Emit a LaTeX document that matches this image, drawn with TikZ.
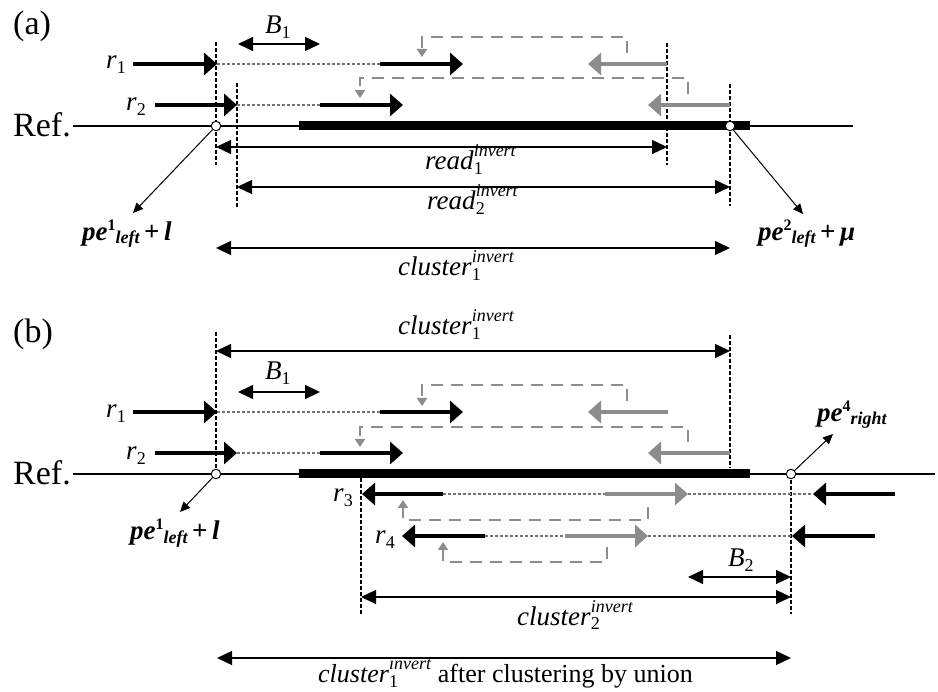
\documentclass[tikz,border=0pt]{standalone}
\usepackage{fontspec}
\setmainfont{Liberation Serif}
\usetikzlibrary{arrows.meta}

\definecolor{readgray}{gray}{0.55}
\definecolor{gapgray}{gray}{0.45}

% script-size text used for indices
\newcommand\scrsize{\fontsize{18}{18}\selectfont}
% superscript #1 stacked over subscript #2
\newcommand\stackss[2]{%
  \setbox0=\hbox{\scrsize #1}\setbox2=\hbox{\scrsize #2}%
  \ifdim\wd0>\wd2 \dimen0=\wd0 \else \dimen0=\wd2 \fi
  \hbox to \dimen0{\rlap{\raise13pt\box0}\lower5pt\box2\hss}}
% plain subscript
\newcommand\subsc[1]{\lower4.5pt\hbox{\scrsize #1}}
% bold breakpoint label: pe^{#1}_{#2} followed by #3
\newcommand\pelabel[3]{\textbf{\textit{pe}}\raise10pt\hbox{\fontsize{16}{16}\selectfont\bfseries #1}%
  \lower3pt\hbox{\fontsize{18}{18}\selectfont\bfseries\itshape #2}#3}

\begin{document}
\begin{tikzpicture}[x=1pt,y=-1pt,
  lbl/.style={inner sep=0pt, anchor=base west, font=\fontsize{27}{31}\selectfont},
  biglbl/.style={inner sep=0pt, anchor=base west, font=\fontsize{34}{40}\selectfont},
  readblk/.style={line width=4.5pt, -{Triangle[length=13pt,width=22pt]}},
  readgry/.style={readblk, color=readgray},
  gapdot/.style={line width=1.8pt, color=gapgray, dash pattern=on 3pt off 2pt},
  bounddot/.style={line width=2.4pt, dash pattern=on 4pt off 2pt},
  spanarr/.style={line width=1.3pt, {Triangle[length=15pt,width=14pt]}-{Triangle[length=15pt,width=14pt]}},
  linkdash/.style={line width=2.6pt, color=readgray, dash pattern=on 12pt off 8pt, -{Triangle[length=8pt,width=10pt]}},
  pearrow/.style={line width=1pt, -{Triangle[length=10pt,width=9pt]}},
  refln/.style={line width=1.3pt},
  bpoint/.style={circle, draw, fill=white, line width=0.9pt, minimum size=9.5pt, inner sep=0pt},
]
\useasboundingbox (0,0) rectangle (938,692);

%% ---------------- (a) ----------------
\node[biglbl] (taga) at (13,35) {(a)};
\node[biglbl] (refa) at (13,137) {Ref.};

\draw[refln] (73,126) -- (853,126);
\fill (299,121.5) rectangle (750,130.5);

% boundaries of the reads
\draw[bounddot] (216,42) -- (216,165);
\draw[bounddot] (237,83) -- (237,207);
\draw[bounddot] (667,43) -- (667,165);
\draw[bounddot] (730,84) -- (730,206);

% read pair r1
\draw[readblk] (133,64) -- (217,64);
\draw[gapdot] (217,64) -- (380,64);
\draw[readblk] (380,64) -- (463,64);
\draw[readgry] (667,64) -- (588,64);
\draw[linkdash] (627,53) -- (627,37) -- (422,37) -- (422,57);

% read pair r2
\draw[readblk] (155,105) -- (237,105);
\draw[gapdot] (237,105) -- (320,105);
\draw[readblk] (320,105) -- (403,105);
\draw[readgry] (730,105) -- (648,105);
\draw[linkdash] (688,94) -- (688,78) -- (360,78) -- (360,98);

\node[lbl] (r1a) at (106,69) {\textit{r}\subsc{1}};
\node[lbl] (r2a) at (126,111) {\textit{r}\subsc{2}};

% B1 window
\draw[spanarr] (238,44) -- (320,44);
\node[lbl] (b1a) at (265,34) {\textit{B}\subsc{1}};

% spans
\draw[spanarr] (216,147) -- (667,147);
\node[lbl] (rd1) at (425,170) {\textit{read}\stackss{\textit{invert}}{1}};
\draw[spanarr] (237,187) -- (730,187);
\node[lbl] (rd2) at (427,210) {\textit{read}\stackss{\textit{invert}}{2}};
\draw[spanarr] (216,248) -- (730,248);
\node[lbl] (cla) at (398,276) {\textit{cluster}\stackss{\textit{invert}}{1}};

% breakpoints
\node[bpoint] (pa1) at (216,126) {};
\node[bpoint] (pa2) at (730,126) {};
\coordinate (pa1e) at (133,213);
\coordinate (pa2e) at (803,214);
\draw[pearrow] (pa1) -- (pa1e);
\draw[pearrow] (pa2) -- (pa2e);
\node[lbl] (pea1) at (82,241) {\pelabel{1}{left}{\,\textbf{+}\,\textbf{\textit{l}}}};
\node[lbl] (pea2) at (758,241) {\pelabel{2}{left}{\,\textbf{+}\,\textbf{\textit{μ}}}};

%% ---------------- (b) ----------------
\node[biglbl] (tagb) at (13,343) {(b)};
\node[biglbl] (refb) at (13,485) {Ref.};

\draw[refln] (73,474) -- (935,474);
\fill (299,469.5) rectangle (750,478.5);

\draw[bounddot] (216,332) -- (216,474);
\draw[bounddot] (730,335) -- (730,468);
\draw[bounddot] (361,478) -- (361,614);
\draw[bounddot] (791,474) -- (791,614);

% cluster 1 span
\draw[spanarr] (216,351) -- (730,351);
\node[lbl] (clb) at (398,335) {\textit{cluster}\stackss{\textit{invert}}{1}};

% B1 window
\draw[spanarr] (238,392) -- (320,392);
\node[lbl] (b1b) at (265,380) {\textit{B}\subsc{1}};

% read pair r1
\draw[readblk] (133,412) -- (217,412);
\draw[gapdot] (217,412) -- (380,412);
\draw[readblk] (380,412) -- (463,412);
\draw[readgry] (668,412) -- (588,412);
\draw[linkdash] (627,401) -- (627,385) -- (422,385) -- (422,406);

% read pair r2
\draw[readblk] (155,453) -- (237,453);
\draw[gapdot] (237,453) -- (320,453);
\draw[readblk] (320,453) -- (403,453);
\draw[readgry] (730,453) -- (648,453);
\draw[linkdash] (688,442) -- (688,427) -- (360,427) -- (360,447);

\node[lbl] (r1b) at (106,418) {\textit{r}\subsc{1}};
\node[lbl] (r2b) at (126,460) {\textit{r}\subsc{2}};

% read pair r3
\draw[readblk] (443,494) -- (362,494);
\draw[gapdot] (443,494) -- (605,494);
\draw[readgry] (605,494) -- (688,494);
\draw[gapdot] (688,494) -- (813,494);
\draw[readblk] (895,494) -- (813,494);
\draw[linkdash] (648,507) -- (648,520) -- (403,520) -- (403,500);

% read pair r4
\draw[readblk] (485,536) -- (402,536);
\draw[gapdot] (485,536) -- (565,536);
\draw[readgry] (565,536) -- (648,536);
\draw[gapdot] (648,536) -- (792,536);
\draw[readblk] (875,536) -- (792,536);
\draw[linkdash] (607,547) -- (607,562) -- (443,562) -- (443,542);

\node[lbl] (r3b) at (333,502) {\textit{r}\subsc{3}};
\node[lbl] (r4b) at (375,544) {\textit{r}\subsc{4}};

% B2 window
\draw[spanarr] (688,577) -- (791,577);
\node[lbl] (b2b) at (728,567) {\textit{B}\subsc{2}};

% cluster 2 and merged cluster
\draw[spanarr] (361,597) -- (791,597);
\node[lbl] (cl2) at (517,625) {\textit{cluster}\stackss{\textit{invert}}{2}};
\draw[spanarr] (217,658) -- (791,658);
\node[lbl, font=\fontsize{26}{30}\selectfont] (clu) at (318,682)
  {\textit{cluster}\stackss{\textit{invert}}{1} after clustering by union};

% breakpoints
\node[bpoint] (pb1) at (216,474) {};
\node[bpoint] (pb2) at (791,474) {};
\coordinate (pb1e) at (180,512);
\coordinate (pb2e) at (833,434);
\draw[pearrow] (pb1) -- (pb1e);
\draw[pearrow] (pb2) -- (pb2e);
\node[lbl] (peb1) at (130,540) {\pelabel{1}{left}{\,\textbf{+}\,\textbf{\textit{l}}}};
\node[lbl] (peb4) at (817,422) {\pelabel{4}{right}{}};
\end{tikzpicture}
\end{document}
